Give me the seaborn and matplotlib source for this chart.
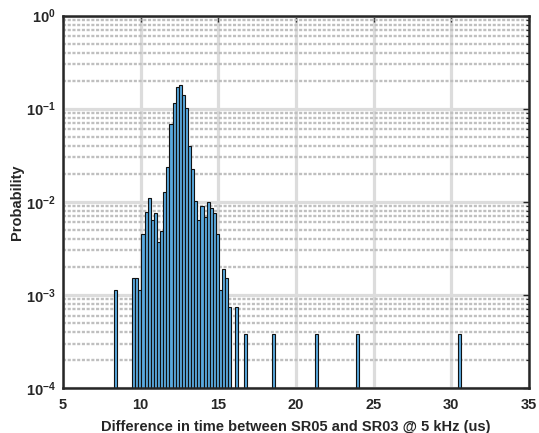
import numpy as np
import pandas as pd
import seaborn as sns
import matplotlib.pyplot as plt
from matplotlib.ticker import FixedLocator, LogLocator, FuncFormatter, NullFormatter

# --- data (probability per 0.2 us bin) ---
bin_width = 0.2
first_edge = 8.25
last_edge = 30.65

# main cluster, contiguous bins starting at 9.45 us
cluster_start = 9.45
cluster_probs = [
    0.0015, 0.0015, 0.00113, 0.0045, 0.0078, 0.0109, 0.0064, 0.0075,
    0.0037, 0.0049, 0.0126, 0.0238, 0.068, 0.114, 0.169, 0.181,
    0.141, 0.101, 0.0397, 0.0223, 0.0101, 0.0064, 0.009, 0.0069,
    0.0100, 0.0086, 0.0075, 0.0045, 0.00113, 0.00188, 0.0015, 0.00075,
    0.0, 0.00075,
]

# isolated bins (left edge, probability)
outlier_left = [8.25, 16.65, 18.45, 21.25, 23.85, 30.45]
outlier_probs = [0.00113, 0.00038, 0.00038, 0.00038, 0.00038, 0.00038]

x_ticks = [5, 10, 15, 20, 25, 30, 35]
y_decades = [1e-4, 1e-3, 1e-2, 1e-1, 1e0]

# --- build centers + weights for histplot ---
cluster_centers = cluster_start + bin_width * (np.arange(len(cluster_probs)) + 0.5)
outlier_centers = np.array(outlier_left) + bin_width / 2
df = pd.DataFrame({
    "dt": np.concatenate([cluster_centers, outlier_centers]),
    "prob": np.concatenate([cluster_probs, outlier_probs]),
})

# --- style ---
sns.set_style("white")
plt.rcParams["font.family"] = ["Liberation Sans", "DejaVu Sans"]
plt.rcParams["font.weight"] = "bold"
plt.rcParams["mathtext.fontset"] = "custom"
plt.rcParams["mathtext.rm"] = "Liberation Sans:bold"
plt.rcParams["mathtext.bf"] = "Liberation Sans:bold"
plt.rcParams["mathtext.it"] = "Liberation Sans:bold:italic"

axis_color = "#262626"

fig = plt.figure(figsize=(5.39, 4.33), dpi=100)
ax = fig.add_axes([0.117, 0.104, 0.864, 0.860])

sns.histplot(
    data=df, x="dt", weights="prob", binwidth=bin_width,
    binrange=(first_edge, last_edge), ax=ax,
    color="#59a9de", alpha=1.0, edgecolor="#111111", linewidth=0.8,
)

ax.set_yscale("log")
ax.set_xlim(5, 35)
ax.set_ylim(1e-4, 1)

# ticks
ax.xaxis.set_major_locator(FixedLocator(x_ticks))
ax.yaxis.set_major_locator(FixedLocator(y_decades))
ax.yaxis.set_minor_locator(LogLocator(base=10, subs=np.arange(2, 10), numticks=20))
ax.yaxis.set_minor_formatter(NullFormatter())
ax.yaxis.set_major_formatter(
    FuncFormatter(lambda v, pos: r"$\mathbf{10^{%d}}$" % int(round(np.log10(v))))
)
ax.tick_params(axis="both", which="both", direction="in", top=True, right=True,
               colors=axis_color, labelsize=10.5)
ax.tick_params(axis="x", which="major", pad=7)
ax.tick_params(axis="y", which="major", pad=5)
ax.tick_params(axis="both", which="major", length=4, width=1.0)
ax.tick_params(axis="y", which="minor", length=2.5, width=0.8)
for lbl in ax.get_xticklabels():
    lbl.set_fontweight("bold")

# grid: thick light major lines, dotted minor lines
ax.set_axisbelow(True)
ax.grid(True, which="major", axis="both", color="#dcdcdc", linewidth=2.3, linestyle="-")
ax.grid(True, which="minor", axis="y", color="#bfbfbf", linewidth=1.7,
        linestyle=(0, (1.3, 0.7)))

for s in ax.spines.values():
    s.set_color(axis_color)
    s.set_linewidth(1.8)

ax.set_xlabel("Difference in time between SR05 and SR03 @ 5 kHz (us)",
              fontsize=10.5, fontweight="bold", color=axis_color, labelpad=6)
ax.set_ylabel("Probability", fontsize=10.5, fontweight="bold", color=axis_color, labelpad=1.5)

fig.savefig("out.png", dpi=100)
